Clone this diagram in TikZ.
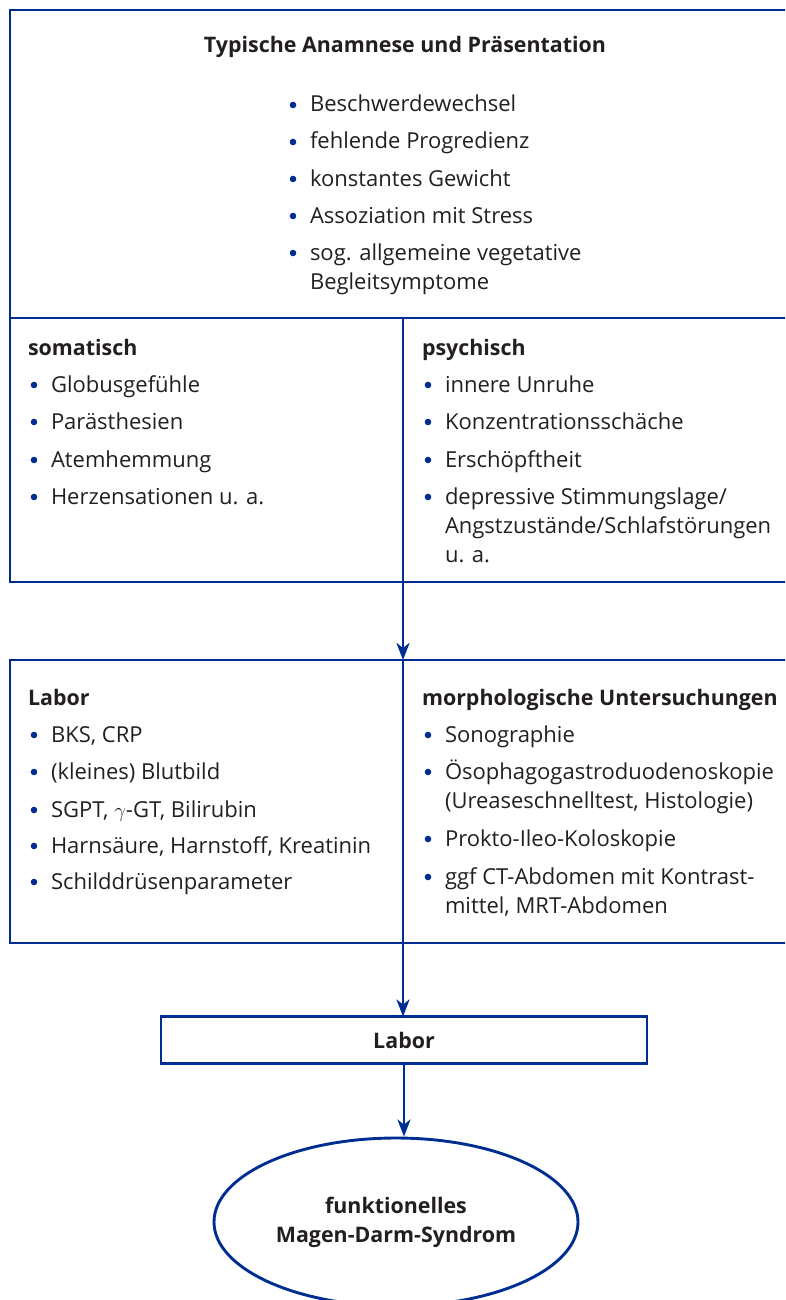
\documentclass[tikz,border=0pt]{standalone}
\usepackage{fontspec}
\setmainfont{Open Sans}
\usetikzlibrary{arrows.meta,shapes.geometric}
\definecolor{mainblue}{RGB}{0,45,145}
\definecolor{txtgray}{RGB}{35,31,32}
% #1 name, #2 x, #3 baseline of first line, #4 number of lines, #5 text
\newcommand\bitem[5]{%
  \fill[mainblue] (#2-17,#3-7) circle (3.3pt);
  \node[txt] (#1) at ({#2},{#3+(#4-1)*29}) {#5};}
\begin{document}
\begin{tikzpicture}[x=1pt,y=-1pt,
  frame/.style={draw=mainblue,line width=2.9pt,rectangle,inner sep=0pt,outer sep=0pt},
  txt/.style={anchor=base west,inner sep=0pt,outer sep=0pt,text=txtgray,font=\fontsize{22}{29}\selectfont,align=left},
  head/.style={txt,font=\fontsize{21.4}{29}\selectfont\bfseries},
  arr/.style={draw=mainblue,line width=2.9pt,-{Stealth[length=17pt,width=13pt,inset=5pt]}},
  rulel/.style={draw=mainblue,line width=2.9pt}]
\useasboundingbox (0,0) rectangle (785,1300);
\clip (0,0) rectangle (785,1300);
% boxes
\node[frame,minimum width=786pt,minimum height=572pt,anchor=north west] (box1) at (10,10) {};
\node[frame,minimum width=786pt,minimum height=283pt,anchor=north west] (box2) at (10,660) {};
\node[frame,minimum width=486pt,minimum height=47pt,text=txtgray,font=\fontsize{21.4}{29}\selectfont\bfseries] (labor) at (404,1040) {Labor};
\node[draw=mainblue,line width=2.9pt,ellipse,minimum width=364pt,minimum height=168pt,inner sep=0pt,align=center,text=txtgray,font=\fontsize{21.4}{29}\selectfont\bfseries] (ell) at (396,1222) {funktionelles\\Magen-Darm-Syndrom};
% inner rules
\draw[rulel] (box1.west |- 0,318) -- (box1.east |- 0,318);
\draw[rulel] (box1.south |- 0,318) -- (box1.south);
\draw[rulel] (box2.north) -- (box2.south);
% arrows
\draw[arr] (box1.south) -- (box2.north);
\draw[arr] (box2.south) -- (box2.south |- labor.north);
\draw[arr] (labor.south) -- (labor.south |- ell.north);
% top box text
\node[head,anchor=base] (title) at (405,53) {Typische Anamnese und Präsentation};
\bitem{a1}{310}{112}{1}{Beschwerdewechsel}
\bitem{a2}{310}{149}{1}{fehlende Progredienz}
\bitem{a3}{310}{186}{1}{konstantes Gewicht}
\bitem{a4}{310}{223}{1}{Assoziation mit Stress}
\bitem{a5}{310}{260}{2}{sog. allgemeine vegetative\\Begleitsymptome}
% somatisch
\node[head] (som) at (28,355) {somatisch};
\bitem{s1}{51}{392}{1}{Globusgefühle}
\bitem{s2}{51}{429}{1}{Parästhesien}
\bitem{s3}{51}{467}{1}{Atemhemmung}
\bitem{s4}{51}{504}{1}{Herzensationen u. a.}
% psychisch
\node[head] (psy) at (422,355) {psychisch};
\bitem{p1}{445}{392}{1}{innere Unruhe}
\bitem{p2}{445}{429}{1}{Konzentrationsschäche}
\bitem{p3}{445}{467}{1}{Erschöpftheit}
\bitem{p4}{445}{504}{3}{depressive Stimmungslage/\\Angstzustände/Schlafstörungen\\u. a.}
% Labor
\node[head] (lab) at (28,705) {Labor};
\bitem{l1}{51}{742}{1}{BKS, CRP}
\bitem{l2}{51}{779}{1}{(kleines) Blutbild}
\bitem{l3}{51}{817}{1}{SGPT, $\gamma$-GT, Bilirubin}
\bitem{l4}{51}{853}{1}{Harnsäure, Harnstoff, Kreatinin}
\bitem{l5}{51}{889}{1}{Schilddrüsenparameter}
% morphologische
\node[head] (mor) at (422,705) {morphologische Untersuchungen};
\bitem{m1}{445}{742}{1}{Sonographie}
\bitem{m2}{445}{779}{2}{Ösophagogastroduodenoskopie\\(Ureaseschnelltest, Histologie)}
\bitem{m3}{445}{846}{1}{Prokto-Ileo-Koloskopie}
\bitem{m4}{445}{884}{2}{ggf CT-Abdomen mit Kontrast-\\mittel, MRT-Abdomen}
\end{tikzpicture}
\end{document}
